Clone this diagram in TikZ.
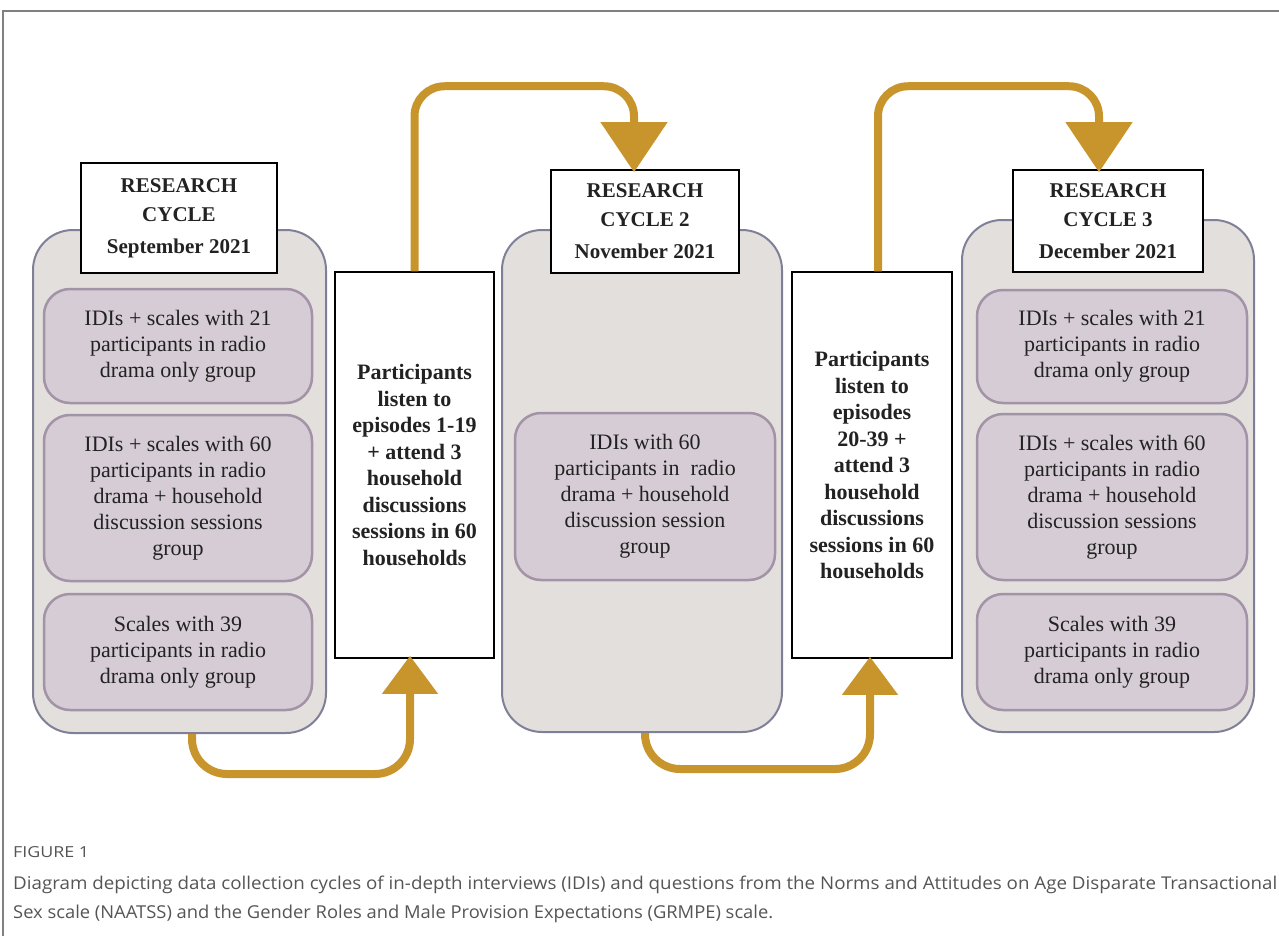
\documentclass[tikz,border=0pt]{standalone}
\usepackage{fontspec}
\setmainfont{Liberation Serif}
\newfontfamily\capfont{Open Sans}
\usetikzlibrary{arrows.meta}
\definecolor{outerfill}{HTML}{E3DFDC}
\definecolor{outerline}{HTML}{7F8098}
\definecolor{innerfill}{HTML}{D6CCD5}
\definecolor{innerline}{HTML}{A393A6}
\definecolor{goldc}{HTML}{C8952C}
\definecolor{framec}{HTML}{808080}
\definecolor{capgray}{HTML}{555555}
\definecolor{txt}{HTML}{222222}
\tikzset{
  outerbox/.style={draw=outerline, fill=outerfill, line width=2pt, rounded corners=40pt, inner sep=0pt},
  innerbox/.style={draw=innerline, fill=innerfill, line width=2.5pt, rounded corners=26pt, inner sep=0pt, align=center, text=txt, font=\fontsize{22}{26}\selectfont},
  headbox/.style={draw=black, fill=white, line width=1.5pt, inner sep=0pt, align=center, text=txt, font=\bfseries\fontsize{21}{29}\selectfont},
  midbox/.style={draw=black, fill=white, line width=1.5pt, inner sep=0pt, align=center, text=txt, font=\bfseries\fontsize{22}{26.5}\selectfont},
  flowtop/.style={draw=goldc, line width=8pt, rounded corners=30pt, -{Triangle[width=65pt,length=50pt]}},
  flowbot/.style={draw=goldc, line width=8pt, rounded corners=35pt, -{Triangle[width=54pt,length=38pt]}},
  captxt/.style={anchor=base west, inner sep=0pt, text=capgray, font=\capfont},
}
\begin{document}
\begin{tikzpicture}[x=1pt,y=-1pt]
\useasboundingbox (0,0) rectangle (1279,936);
% frame
\draw[framec, line width=1.5pt] (3,936) -- (3,11) -- (1279,11);

% outer cycle boxes
\node[outerbox, minimum width=293pt, minimum height=503pt] (cyc1) at (179.5,481.5) {};
\node[outerbox, minimum width=280pt, minimum height=502pt] (cyc2) at (642,481) {};
\node[outerbox, minimum width=292pt, minimum height=512pt] (cyc3) at (1108,476) {};

% headers
\node[headbox, minimum width=196pt, minimum height=110pt] (hd1) at (179,218) {RESEARCH\\CYCLE\\[3pt]September 2021};
\node[headbox, minimum width=188pt, minimum height=103pt] (hd2) at (645,221.5) {RESEARCH\\CYCLE 2\\[3pt]November 2021};
\node[headbox, minimum width=190pt, minimum height=102pt] (hd3) at (1108,221) {RESEARCH\\CYCLE 3\\[3pt]December 2021};

% inner boxes cycle 1
\node[innerbox, minimum width=268pt, minimum height=114pt] (c1a) at (178,346) {IDIs + scales with 21\\participants in radio\\drama only group};
\node[innerbox, minimum width=268pt, minimum height=166pt] (c1b) at (178,498) {IDIs + scales with 60\\participants in radio\\drama + household\\discussion sessions\\group};
\node[innerbox, minimum width=268pt, minimum height=116pt] (c1c) at (178,652) {Scales with 39\\participants in radio\\drama only group};
% inner box cycle 2
\node[innerbox, minimum width=260pt, minimum height=167pt] (c2a) at (645,496.5) {IDIs with 60\\participants in\ \ radio\\drama + household\\discussion session\\group};
% inner boxes cycle 3
\node[innerbox, minimum width=270pt, minimum height=113pt] (c3a) at (1112,346.5) {IDIs + scales with 21\\participants in radio\\drama only group};
\node[innerbox, minimum width=270pt, minimum height=166pt] (c3b) at (1112,497) {IDIs + scales with 60\\participants in radio\\drama + household\\discussion sessions\\group};
\node[innerbox, minimum width=270pt, minimum height=116pt] (c3c) at (1112,652) {Scales with 39\\participants in radio\\drama only group};

% middle boxes
\node[midbox, minimum width=159pt, minimum height=386pt] (mid1) at (414.5,465) {Participants\\listen to\\episodes 1-19\\+ attend 3\\household\\discussions\\sessions in 60\\households};
\node[midbox, minimum width=160pt, minimum height=386pt] (mid2) at (872,465) {Participants\\listen to\\episodes\\20-39 +\\attend 3\\household\\discussions\\sessions in 60\\households};

% arrow end points
\coordinate (t1) at ([xshift=-11pt,yshift=-3pt]hd2.north);
\coordinate (t2) at ([xshift=-9pt,yshift=-3pt]hd3.north);
\coordinate (b1) at ([xshift=-4.5pt,yshift=3pt]mid1.south);
\coordinate (b2) at ([xshift=-2pt,yshift=2pt]mid2.south);

% connectors
\draw[flowtop] (mid1.north) -- ++(0,-185) -| (t1);
\draw[flowtop] ([xshift=6pt]mid2.north) -- ++(0,-185) -| (t2);
\draw[flowbot] ([xshift=12.5pt]cyc1.south) -- ++(0,40) -| (b1);
\draw[flowbot] ([xshift=3pt]cyc2.south) -- ++(0,36) -| (b2);

% caption
\node[captxt] (fig) at (13,857) {\resizebox{76pt}{11pt}{FIGURE 1}};
\node[captxt] (cap1) at (13,889) {\resizebox{1264pt}{13.5pt}{Diagram depicting data collection cycles of in-depth interviews (IDIs) and questions from the Norms and Attitudes on Age Disparate Transactional}};
\node[captxt] (cap2) at (13,918) {\resizebox{760pt}{13.5pt}{Sex scale (NAATSS) and the Gender Roles and Male Provision Expectations (GRMPE) scale.}};
\end{tikzpicture}
\end{document}
